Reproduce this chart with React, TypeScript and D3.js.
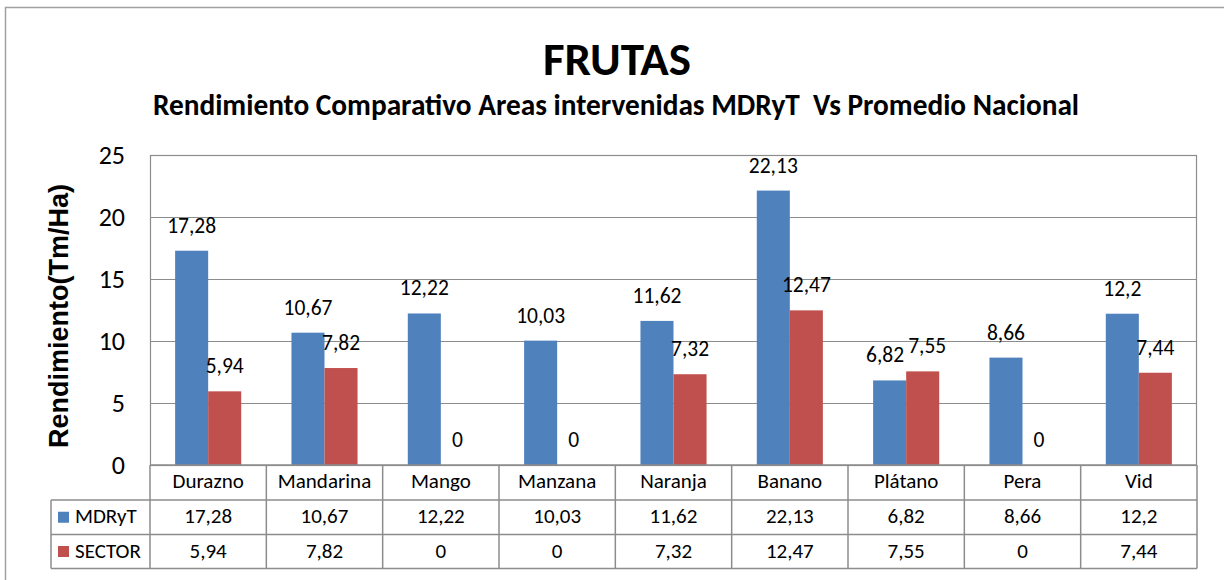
import React, { useRef, useEffect } from "react";
import * as d3 from "d3";

const categories = ["Durazno", "Mandarina", "Mango", "Manzana", "Naranja", "Banano", "Plátano", "Pera", "Vid"];
const mdrytValues = [17.28, 10.67, 12.22, 10.03, 11.62, 22.13, 6.82, 8.66, 12.2];
const sectorValues = [5.94, 7.82, 0, 0, 7.32, 12.47, 7.55, 0, 7.44];
const seriesNames = ["MDRyT", "SECTOR"];
const seriesColors = ["#4F81BD", "#C0504D"];
const yTicks = [0, 5, 10, 15, 20, 25];

const fmt = (v: number) => String(v).replace(".", ",");

const App = () => {
  const ref = useRef<SVGSVGElement>(null);

  useEffect(() => {
    const svg = d3.select(ref.current);
    svg.selectAll("*").remove();
    const font = "Carlito, Calibri, Lato, 'Open Sans', sans-serif";
    const W = 1224, H = 580;
    const left = 150, right = 1197, top = 155, bottom = 465;
    const rowH = [35, 34.5, 34];
    const labelColLeft = 51;
    const grey = "#8c8c8c";

    svg.append("rect").attr("width", W).attr("height", H).attr("fill", "#fff");
    // outer chart border (runs off the right and bottom edges)
    svg.append("rect").attr("x", 5.5).attr("y", 7.5).attr("width", 1300).attr("height", 700)
      .attr("fill", "none").attr("stroke", "#a0a0a0").attr("stroke-width", 1.5);

    const series = [mdrytValues, sectorValues];

    const x = d3.scaleBand<string>().domain(categories).range([left, right]).padding(0);
    const bw = x.bandwidth();
    const x1 = d3.scaleBand<string>().domain(seriesNames).range([bw * 0.216, bw * 0.784]).padding(0);
    const y = d3.scaleLinear().domain([0, 25]).range([bottom, top]);

    // titles
    svg.append("text").attr("x", 617).attr("y", 75).attr("text-anchor", "middle")
      .attr("font-family", font).attr("font-weight", "bold").attr("font-size", 47).text("FRUTAS");
    svg.append("text").attr("x", 616).attr("y", 115).attr("text-anchor", "middle")
      .attr("font-family", font).attr("font-weight", "bold").attr("font-size", 29.3)
      .style("white-space", "pre")
      .text("Rendimiento Comparativo Areas intervenidas MDRyT  Vs Promedio Nacional");

    // y axis title
    svg.append("text").attr("transform", `translate(68,316) rotate(-90)`)
      .attr("text-anchor", "middle").attr("font-family", "'Liberation Sans', Arial, sans-serif")
      .attr("font-weight", "bold").attr("font-size", 27).text("Rendimiento(Tm/Ha)");

    // gridlines
    svg.append("g").selectAll("line").data(yTicks).join("line")
      .attr("x1", left).attr("x2", right)
      .attr("y1", (d) => Math.round(y(d)) + 0.5).attr("y2", (d) => Math.round(y(d)) + 0.5)
      .attr("stroke", grey).attr("stroke-width", 1.2);
    // plot border
    svg.append("rect").attr("x", left + 0.5).attr("y", top + 0.5).attr("width", right - left - 1)
      .attr("height", bottom - top).attr("fill", "none").attr("stroke", grey).attr("stroke-width", 1.2);

    // y tick labels
    svg.append("g").selectAll("text").data(yTicks).join("text")
      .attr("x", 125).attr("y", (d) => y(d) + 9).attr("text-anchor", "end")
      .attr("font-family", font).attr("font-size", 26).text((d) => d);

    // bars
    const labelSel: any[] = [];
    series.forEach((vals, si) => {
      const g = svg.append("g");
      g.selectAll("rect").data(vals).join("rect")
        .attr("x", (d, i) => x(categories[i])! + x1(seriesNames[si])!)
        .attr("y", (d) => y(d))
        .attr("width", x1.bandwidth())
        .attr("height", (d) => bottom - y(d))
        .attr("fill", seriesColors[si]);
      const lab = g.selectAll("text").data(vals).join("text")
        .attr("x", (d, i) => x(categories[i])! + x1(seriesNames[si])! + x1.bandwidth() / 2)
        .attr("y", (d) => y(d) - 18)
        .attr("text-anchor", "middle").attr("font-family", font).attr("font-size", 21.5)
        .text((d) => fmt(d));
      labelSel.push(lab.nodes());
    });

    // nudge apart the two labels of a category when they collide (like Excel does)
    categories.forEach((c, i) => {
      const a = labelSel[0][i] as SVGTextElement;
      const b = labelSel[1][i] as SVGTextElement;
      const ba = a.getBBox(), bb = b.getBBox();
      const vOverlap = ba.y < bb.y + bb.height && bb.y < ba.y + ba.height;
      const hOverlap = ba.x + ba.width + 4 - bb.x;
      if (vOverlap && hOverlap > 0) {
        const s = hOverlap / 2;
        a.setAttribute("x", String(+a.getAttribute("x")! - s));
        b.setAttribute("x", String(+b.getAttribute("x")! + s));
      }
    });

    // data table
    const t0 = bottom, t1 = t0 + rowH[0], t2 = t1 + rowH[1], t3 = t2 + rowH[2];
    const tg = svg.append("g").attr("stroke", grey).attr("stroke-width", 1.5);
    [t1, t2, t3].forEach((yy) => {
      tg.append("line").attr("x1", labelColLeft).attr("x2", right).attr("y1", yy).attr("y2", yy);
    });
    tg.append("line").attr("x1", left).attr("x2", right).attr("y1", t0).attr("y2", t0);
    const bounds = categories.map((c) => x(c)!).concat([right]);
    tg.selectAll("line.v").data(bounds).join("line").attr("class", "v")
      .attr("x1", (d) => d).attr("x2", (d) => d).attr("y1", t0).attr("y2", t3);
    tg.append("line").attr("x1", labelColLeft).attr("x2", labelColLeft).attr("y1", t1).attr("y2", t3);

    svg.append("g").selectAll("text").data(categories).join("text")
      .attr("x", (d) => x(d)! + bw / 2).attr("y", t0 + 23).attr("text-anchor", "middle")
      .attr("font-family", font).attr("font-size", 21).text((d) => d);

    series.forEach((vals, si) => {
      const rowTop = si === 0 ? t1 : t2;
      const rh = si === 0 ? rowH[1] : rowH[2];
      svg.append("rect").attr("x", 58).attr("y", rowTop + rh / 2 - 5.5).attr("width", 11).attr("height", 11)
        .attr("fill", seriesColors[si]);
      svg.append("text").attr("x", 75).attr("y", rowTop + 23)
        .attr("font-family", font).attr("font-size", 21).text(seriesNames[si]);
      svg.append("g").selectAll("text").data(vals).join("text")
        .attr("x", (d, i) => x(categories[i])! + bw / 2).attr("y", rowTop + 23)
        .attr("text-anchor", "middle").attr("font-family", font).attr("font-size", 21)
        .text((d) => fmt(d));
    });
  }, []);

  return (
    <svg ref={ref} width={1224} height={580}
      style={{ position: "absolute", left: 0, top: 0, display: "block" }} />
  );
};

export default App;
